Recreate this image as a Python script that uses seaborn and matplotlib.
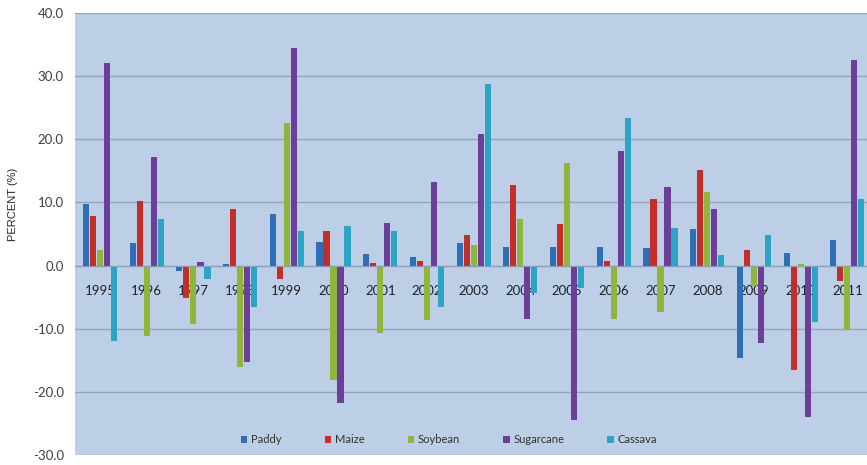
import numpy as np
import pandas as pd
import matplotlib
matplotlib.use("Agg")
import matplotlib.pyplot as plt
import seaborn as sns

years = ["1995", "1996", "1997", "1998", "1999", "2000", "2001", "2002", "2003",
         "2004", "2005", "2006", "2007", "2008", "2009", "2010", "2011"]
crops = ["Paddy", "Maize", "Soybean", "Sugarcane", "Cassava"]

paddy =     [9.8, 3.5, -0.8, 0.3, 8.2, 3.8, 1.9, 1.4, 3.6, 3.0, 3.0, 3.0, 2.8, 5.8, -14.6, 2.0, 4.1]
maize =     [7.9, 10.3, -5.2, 9.0, -2.1, 5.4, 0.4, 0.8, 4.9, 12.7, 6.6, 0.7, 10.6, 15.1, 2.4, -16.6, -2.4]
soybean =   [2.4, -11.1, -9.2, -16.0, 22.6, -18.2, -10.7, -8.6, 3.3, 7.4, 16.3, -8.4, -7.4, 11.6, -3.2, 0.3, -10.2]
sugarcane = [32.1, 17.2, 0.6, -15.2, 34.4, -21.8, 6.8, 13.2, 20.8, -8.4, -24.5, 18.2, 12.5, 9.0, -12.3, -24.0, 32.6]
cassava =   [-11.9, 7.4, -2.2, -6.5, 5.5, 6.3, 5.5, -6.5, 28.8, -4.4, -3.5, 23.4, 5.9, 1.6, 4.9, -8.9, 10.6]

colors = ["#2f6db5", "#c32e2b", "#8db63b", "#6b3f98", "#2ba4c6"]

df = pd.DataFrame({
    "Year": np.repeat(years, len(crops)),
    "Crop": crops * len(years),
    "Value": np.ravel(np.column_stack([paddy, maize, soybean, sugarcane, cassava])),
})

sns.set_theme(style="white")
plt.rcParams["font.family"] = ["Lato", "DejaVu Sans"]

fig = plt.figure(figsize=(8.67, 4.65), dpi=100)
ax = fig.add_axes([75 / 867, 1 - 455 / 465, 1 - 75 / 867, (455 - 13) / 465])

sns.barplot(data=df, x="Year", y="Value", hue="Crop", hue_order=crops, order=years,
            palette=colors, width=0.75, gap=0.12, errorbar=None, ax=ax,
            saturation=1, linewidth=0)

ax.set_facecolor("#bccfe6")
ax.set_ylim(-30, 40)
ax.set_xlim(-0.535, 16.42)
ax.set_yticks(np.arange(-30, 41, 10))
ax.set_yticklabels([f"{v:.1f}" for v in np.arange(-30, 41, 10)], color="#404040", fontsize=9.5)
ax.yaxis.grid(True, color="#93a6be", linewidth=1.0)
ax.set_axisbelow(True)
for s in ["top", "right", "left"]:
    ax.spines[s].set_visible(False)
ax.spines["bottom"].set_position(("data", 0))
ax.spines["bottom"].set_color("#8c9fb8")
ax.spines["bottom"].set_linewidth(0.8)
ax.tick_params(axis="x", length=0, pad=14, labelsize=9.5, labelcolor="#222222")
ax.tick_params(axis="y", length=0, pad=8)
ax.set_xlabel("")
ax.set_ylabel("PERCENT (%)", fontsize=8, family="Liberation Sans", color="#222222")
ax.yaxis.set_label_coords(-0.072, 0.566)

leg = ax.legend(loc="lower center", bbox_to_anchor=(0.472, 0.0), ncol=5, frameon=False,
                fontsize=8, handlelength=0.6, handleheight=0.6, columnspacing=3.9,
                handletextpad=0.3)
for t in leg.get_texts():
    t.set_color("#333333")

fig.savefig("out.png", dpi=100, facecolor="white")
